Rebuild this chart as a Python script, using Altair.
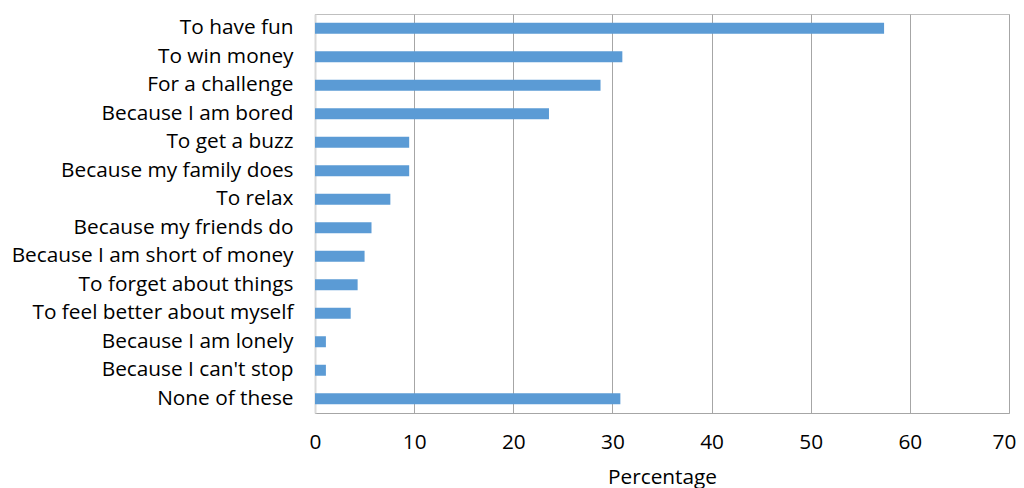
import altair as alt
import pandas as pd

reasons = [
    "To have fun", "To win money", "For a challenge", "Because I am bored",
    "To get a buzz", "Because my family does", "To relax", "Because my friends do",
    "Because I am short of money", "To forget about things",
    "To feel better about myself", "Because I am lonely", "Because I can't stop",
    "None of these",
]
percentages = [57.4, 31.0, 28.8, 23.6, 9.5, 9.5, 7.6, 5.7, 5.0, 4.3, 3.6, 1.1, 1.1, 30.8]
x_ticks = [0, 10, 20, 30, 40, 50, 60, 70]

df = pd.DataFrame({"reason": reasons, "pct": percentages})

FONT = "Open Sans"
FS = 20.8

chart = (
    alt.Chart(df)
    .mark_bar(color="#5B9BD5", size=11)
    .encode(
        x=alt.X(
            "pct:Q",
            title="Percentage",
            scale=alt.Scale(domain=[0, 70], nice=False),
            axis=alt.Axis(
                values=x_ticks,
                grid=True,
                gridColor="#A6A6A6",
                gridWidth=1,
                domain=True,
                domainColor="#A6A6A6",
                ticks=False,
                labelFlush=False,
                labelPadding=19,
                labelFontSize=FS,
                labelFont=FONT,
                labelColor="#000000",
                labelOffset={"condition": {"test": "datum.value == 70", "value": -5}, "value": 0},
                titleFont=FONT,
                titleFontSize=FS,
                titleFontWeight="normal",
                titleColor="#000000",
                titleBaseline="alphabetic",
                titleY=70,
            ),
        ),
        y=alt.Y(
            "reason:N",
            sort=reasons,
            title=None,
            scale=alt.Scale(paddingInner=0, paddingOuter=0),
            axis=alt.Axis(
                ticks=False,
                domain=True,
                domainColor="#D9D9D9",
                domainWidth=2,
                labelPadding=22,
                labelFontSize=FS,
                labelFont=FONT,
                labelColor="#000000",
                labelLimit=400,
            ),
        ),
    )
    .properties(
        width=694,
        height=399,
        autosize=alt.AutoSizeParams(type="none"),
        padding={"left": 307, "top": 6, "right": 7, "bottom": 76},
    )
    .configure_view(stroke="#BFBFBF", strokeWidth=1)
)

chart.save("out.html", embed_options={"renderer": "svg", "actions": False})
